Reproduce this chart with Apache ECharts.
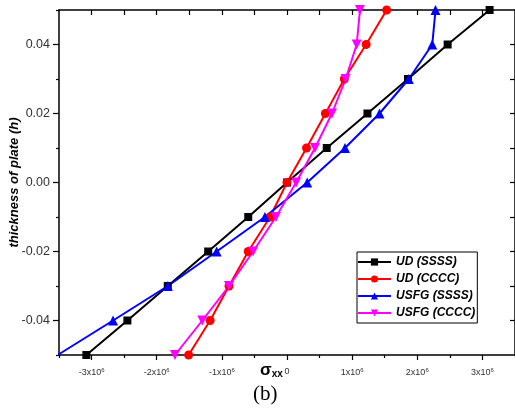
<!DOCTYPE html>
<html><head><meta charset="utf-8">
<script src="https://cdn.jsdelivr.net/npm/echarts@6/dist/echarts.min.js"></script>
<style>html,body{margin:0;padding:0;background:#fff}#c{width:515px;height:410px}</style>
</head><body><div id="c"></div>
<script>
// thickness positions (y axis)
const thickness = [-0.05, -0.04, -0.03, -0.02, -0.01, 0, 0.01, 0.02, 0.03, 0.04, 0.05];
// sigma_xx values (x axis)
const udSSSS   = [-3.08e6, -2.45e6, -1.83e6, -1.21e6, -0.595e6, 0, 0.61e6, 1.235e6, 1.857e6, 2.466e6, 3.11e6];
const udCCCC   = [-1.51e6, -1.18e6, -0.89e6, -0.595e6, -0.26e6, 0, 0.30e6, 0.59e6, 0.88e6, 1.215e6, 1.53e6];
const usfgSSSS = [-3.52e6, -2.67e6, -1.83e6, -1.08e6, -0.34e6, 0.31e6, 0.89e6, 1.42e6, 1.87e6, 2.23e6, 2.28e6];
const usfgCCCC = [-1.72e6, -1.30e6, -0.89e6, -0.52e6, -0.17e6, 0.14e6, 0.43e6, 0.69e6, 0.90e6, 1.07e6, 1.12e6];
const seriesNames = ['UD (SSSS)', 'UD (CCCC)', 'USFG (SSSS)', 'USFG (CCCC)'];
// ticks
const xMajorTicks = [-3e6, -2e6, -1e6, 0, 1e6, 2e6, 3e6];
const xMinorTicks = [-3.5e6, -2.5e6, -1.5e6, -0.5e6, 0.5e6, 1.5e6, 2.5e6, 3.5e6];
const xTopTicks = [-3e6, -2.5e6, -2e6, -1.5e6, -1e6, -0.5e6, 0, 0.5e6, 1e6, 1.5e6, 2e6, 2.5e6, 3e6];
const yMajorTicks = [-0.04, -0.02, 0, 0.02, 0.04];
const yMinorTicks = [-0.05, -0.03, -0.01, 0.01, 0.03, 0.05];
const yRightTicks = [-0.04, -0.03, -0.02, -0.01, 0, 0.01, 0.02, 0.03, 0.04];

const chart = echarts.init(document.getElementById('c'), null, {renderer: 'canvas'});
const pairs = arr => arr.map((v, i) => [v, thickness[i]]);
const axisLineStyle = {color: '#000', width: 1.5};
const font = 'Liberation Sans, Arial, sans-serif';

function mk(name, arr, color, symbol, size, rotate) {
  return {
    name: name, type: 'line', data: pairs(arr), xAxisIndex: 0, yAxisIndex: 0,
    symbol: symbol, symbolSize: size, symbolRotate: rotate || 0,
    lineStyle: {color: color, width: 2}, itemStyle: {color: color},
    clip: true, animation: false
  };
}

chart.setOption({
  animation: false,
  backgroundColor: '#fff',
  grid: {left: 59, right: 0, top: 10, bottom: 55, containLabel: false, outerBoundsMode: 'none'},
  xAxis: [
    {type: 'value', position: 'bottom', min: -3.5e6, max: 3.5e6,
     axisLine: {show: true, lineStyle: axisLineStyle, onZero: false},
     axisTick: {show: true, customValues: xMajorTicks, length: 5, inside: false, lineStyle: {color: '#000', width: 1.2}},
     axisLabel: {show: true, customValues: xMajorTicks, margin: 12, color: '#333', fontSize: 9, fontFamily: font,
       formatter: v => v === 0 ? '0' : (v / 1e6) + 'x10{s|6}',
       rich: {s: {fontSize: 6, verticalAlign: 'top', padding: [0, 0, 6, 0], color: '#333', fontFamily: font}}},
     splitLine: {show: false}},
    {type: 'value', position: 'bottom', min: -3.5e6, max: 3.5e6,
     axisLine: {show: false, onZero: false},
     axisTick: {show: true, customValues: xMinorTicks, length: 3, inside: false, lineStyle: {color: '#000', width: 1.2}},
     axisLabel: {show: false}, splitLine: {show: false}},
    {type: 'value', position: 'top', min: -3.5e6, max: 3.5e6,
     axisLine: {show: true, lineStyle: axisLineStyle, onZero: false},
     axisTick: {show: true, customValues: xTopTicks, length: 5, inside: true, lineStyle: {color: '#000', width: 1.2}},
     axisLabel: {show: false}, splitLine: {show: false}}
  ],
  yAxis: [
    {type: 'value', position: 'left', min: -0.05, max: 0.05,
     axisLine: {show: true, lineStyle: axisLineStyle, onZero: false},
     axisTick: {show: true, customValues: yMajorTicks, length: 6, inside: false, lineStyle: {color: '#000', width: 1.2}},
     axisLabel: {show: true, customValues: yMajorTicks, margin: 9, color: '#333', fontSize: 12.5, fontFamily: font,
       formatter: v => v.toFixed(2)},
     splitLine: {show: false},
     name: 'thickness of plate (h)', nameLocation: 'middle', nameGap: 38, nameMoveOverlap: false,
     nameTextStyle: {fontFamily: font, fontSize: 13, fontWeight: 'bold', fontStyle: 'italic', color: '#000'}},
    {type: 'value', position: 'left', min: -0.05, max: 0.05,
     axisLine: {show: false, onZero: false},
     axisTick: {show: true, customValues: yMinorTicks, length: 3, inside: false, lineStyle: {color: '#000', width: 1.2}},
     axisLabel: {show: false}, splitLine: {show: false}},
    {type: 'value', position: 'right', min: -0.05, max: 0.05,
     axisLine: {show: true, lineStyle: axisLineStyle, onZero: false},
     axisTick: {show: true, customValues: yRightTicks, length: 5, inside: true, lineStyle: {color: '#000', width: 1.2}},
     axisLabel: {show: false}, splitLine: {show: false}}
  ],
  legend: {
    orient: 'vertical', left: 357, top: 252,
    data: seriesNames,
    itemWidth: 33, itemHeight: 9, itemGap: 5,
    padding: [4, 2, 4, 0],
    borderColor: '#000', borderWidth: 1, backgroundColor: '#fff',
    textStyle: {fontFamily: font, fontSize: 12, fontWeight: 'bold', fontStyle: 'italic', color: '#000'}
  },
  graphic: [
    {type: 'text', left: 260, top: 362,
     style: {text: '{a|σ}{b|xx}', rich: {
       a: {fontFamily: font, fontSize: 17, fontWeight: 'bold', fill: '#000'},
       b: {fontFamily: font, fontSize: 10, fontWeight: 'bold', fill: '#000', verticalAlign: 'bottom', padding: [6, 0, 0, 0]}}}},
    {type: 'text', left: 253, top: 384,
     style: {text: '(b)', fontFamily: 'Liberation Serif, DejaVu Serif, serif', fontSize: 21, fill: '#000'}}
  ],
  series: [
    mk(seriesNames[0], udSSSS, '#000000', 'rect', 8),
    mk(seriesNames[1], udCCCC, '#ff0000', 'circle', 9),
    mk(seriesNames[2], usfgSSSS, '#0000ff', 'triangle', 10),
    mk(seriesNames[3], usfgCCCC, '#ff00ff', 'triangle', 10, 180)
  ]
});
</script>
</body></html>
